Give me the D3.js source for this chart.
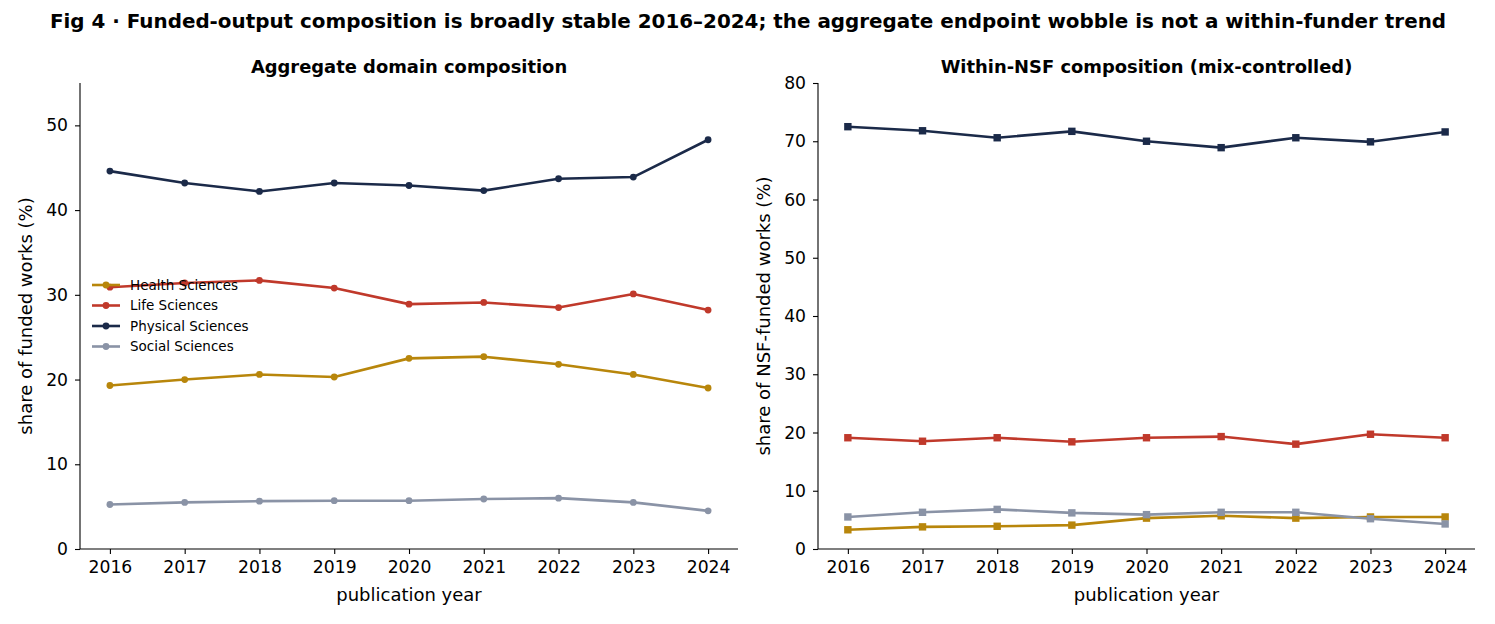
<!DOCTYPE html>
<html>
<head>
<meta charset="utf-8">
<script src="https://cdn.jsdelivr.net/npm/d3@7"></script>
<style>
  body { margin: 0; background: #fff; }
  svg text { font-family: "DejaVu Sans", sans-serif; fill: #000; }
</style>
</head>
<body>
<svg id="chart" width="1495" height="624"></svg>
<script>
// data
const years = [2016, 2017, 2018, 2019, 2020, 2021, 2022, 2023, 2024];
const domains = ["Health Sciences", "Life Sciences", "Physical Sciences", "Social Sciences"];
const colors = ["#b8860b", "#c0392b", "#1b2a49", "#8a93a6"];

// left panel: aggregate share of funded works (%)
const aggHealth   = [19.3, 20.0, 20.6, 20.3, 22.5, 22.7, 21.8, 20.6, 19.0];
const aggLife     = [30.9, 31.4, 31.7, 30.8, 28.9, 29.1, 28.5, 30.1, 28.2];
const aggPhysical = [44.6, 43.2, 42.2, 43.2, 42.9, 42.3, 43.7, 43.9, 48.3];
const aggSocial   = [5.25, 5.5, 5.65, 5.7, 5.7, 5.9, 6.0, 5.5, 4.5];

// right panel: within-NSF share (%)
const nsfHealth   = [3.3, 3.8, 3.9, 4.1, 5.3, 5.7, 5.3, 5.5, 5.5];
const nsfLife     = [19.1, 18.5, 19.1, 18.4, 19.1, 19.3, 18.0, 19.7, 19.1];
const nsfPhysical = [72.5, 71.8, 70.6, 71.7, 70.0, 68.9, 70.6, 69.9, 71.6];
const nsfSocial   = [5.5, 6.3, 6.8, 6.2, 5.9, 6.3, 6.3, 5.2, 4.3];

const svg = d3.select("#chart");

svg.append("text")
  .attr("x", 748).attr("y", 28)
  .attr("text-anchor", "middle")
  .style("font-size", "19.9px").style("font-weight", "bold")
  .text("Fig 4 · Funded-output composition is broadly stable 2016–2024; the aggregate endpoint wobble is not a within-funder trend");

function panel(opts) {
  const { left, right, top, bottom, yMax, yTicks, title, yLabel, series, marker, legend } = opts;
  const g = svg.append("g");

  const x = d3.scaleLinear().domain([2015.6, 2024.4]).range([left, right]);
  const y = d3.scaleLinear().domain([0, yMax]).range([bottom, top]);

  const xAxis = g.append("g")
    .attr("transform", `translate(0,${bottom})`)
    .call(d3.axisBottom(x).tickValues(years).tickFormat(d3.format("d")).tickSize(5).tickPadding(7));
  const yAxis = g.append("g")
    .attr("transform", `translate(${left},0)`)
    .call(d3.axisLeft(y).tickValues(yTicks).tickSize(5).tickPadding(7));
  [xAxis, yAxis].forEach(a => {
    a.select(".domain").attr("stroke", "#000").attr("stroke-width", 1.1);
    a.selectAll(".tick line").attr("stroke", "#000").attr("stroke-width", 1.1);
    a.selectAll(".tick text").style("font-size", "17.2px").attr("fill", "#000");
  });
  xAxis.select(".domain").attr("d", `M${left},0H${right}`);
  yAxis.select(".domain").attr("d", `M0,${bottom}V${top}`);

  g.append("text")
    .attr("x", (left + right) / 2).attr("y", 73)
    .attr("text-anchor", "middle")
    .style("font-size", "17.9px").style("font-weight", "bold")
    .text(title);
  g.append("text")
    .attr("x", (left + right) / 2).attr("y", bottom + 52)
    .attr("text-anchor", "middle")
    .style("font-size", "18px")
    .text("publication year");
  g.append("text")
    .attr("transform", `translate(${left - 48},${(top + bottom) / 2}) rotate(-90)`)
    .attr("text-anchor", "middle")
    .style("font-size", "18px")
    .text(yLabel);

  const line = d3.line().x((d, i) => x(years[i])).y(d => y(d));

  series.forEach((vals, k) => {
    g.append("path")
      .attr("d", line(vals))
      .attr("fill", "none")
      .attr("stroke", colors[k])
      .attr("stroke-width", 2.6)
      .attr("stroke-linejoin", "round");
    const pts = g.append("g").attr("fill", colors[k]);
    if (marker === "circle") {
      pts.selectAll("circle").data(vals).join("circle")
        .attr("cx", (d, i) => x(years[i])).attr("cy", d => y(d)).attr("r", 3.4);
    } else {
      pts.selectAll("rect").data(vals).join("rect")
        .attr("x", (d, i) => x(years[i]) - 3.7).attr("y", d => y(d) - 3.7)
        .attr("width", 7.4).attr("height", 7.4);
    }
  });

  if (legend) {
    const lg = g.append("g").attr("transform", `translate(${left + 12},${legend.y})`);
    domains.forEach((name, k) => {
      const row = lg.append("g").attr("transform", `translate(0,${k * 20.5})`);
      row.append("line").attr("x1", 0).attr("x2", 28)
        .attr("stroke", colors[k]).attr("stroke-width", 2.6);
      row.append("circle").attr("cx", 14).attr("r", 3.4).attr("fill", colors[k]);
      row.append("text").attr("x", 38).attr("dy", "0.35em")
        .style("font-size", "13.5px").text(name);
    });
  }
}

panel({
  left: 80, right: 738, top: 83, bottom: 549,
  yMax: 55, yTicks: [0, 10, 20, 30, 40, 50],
  title: "Aggregate domain composition",
  yLabel: "share of funded works (%)",
  series: [aggHealth, aggLife, aggPhysical, aggSocial],
  marker: "circle",
  legend: { y: 285 }
});

panel({
  left: 818, right: 1475, top: 83, bottom: 549,
  yMax: 80, yTicks: [0, 10, 20, 30, 40, 50, 60, 70, 80],
  title: "Within-NSF composition (mix-controlled)",
  yLabel: "share of NSF-funded works (%)",
  series: [nsfHealth, nsfLife, nsfPhysical, nsfSocial],
  marker: "square"
});
</script>
</body>
</html>
